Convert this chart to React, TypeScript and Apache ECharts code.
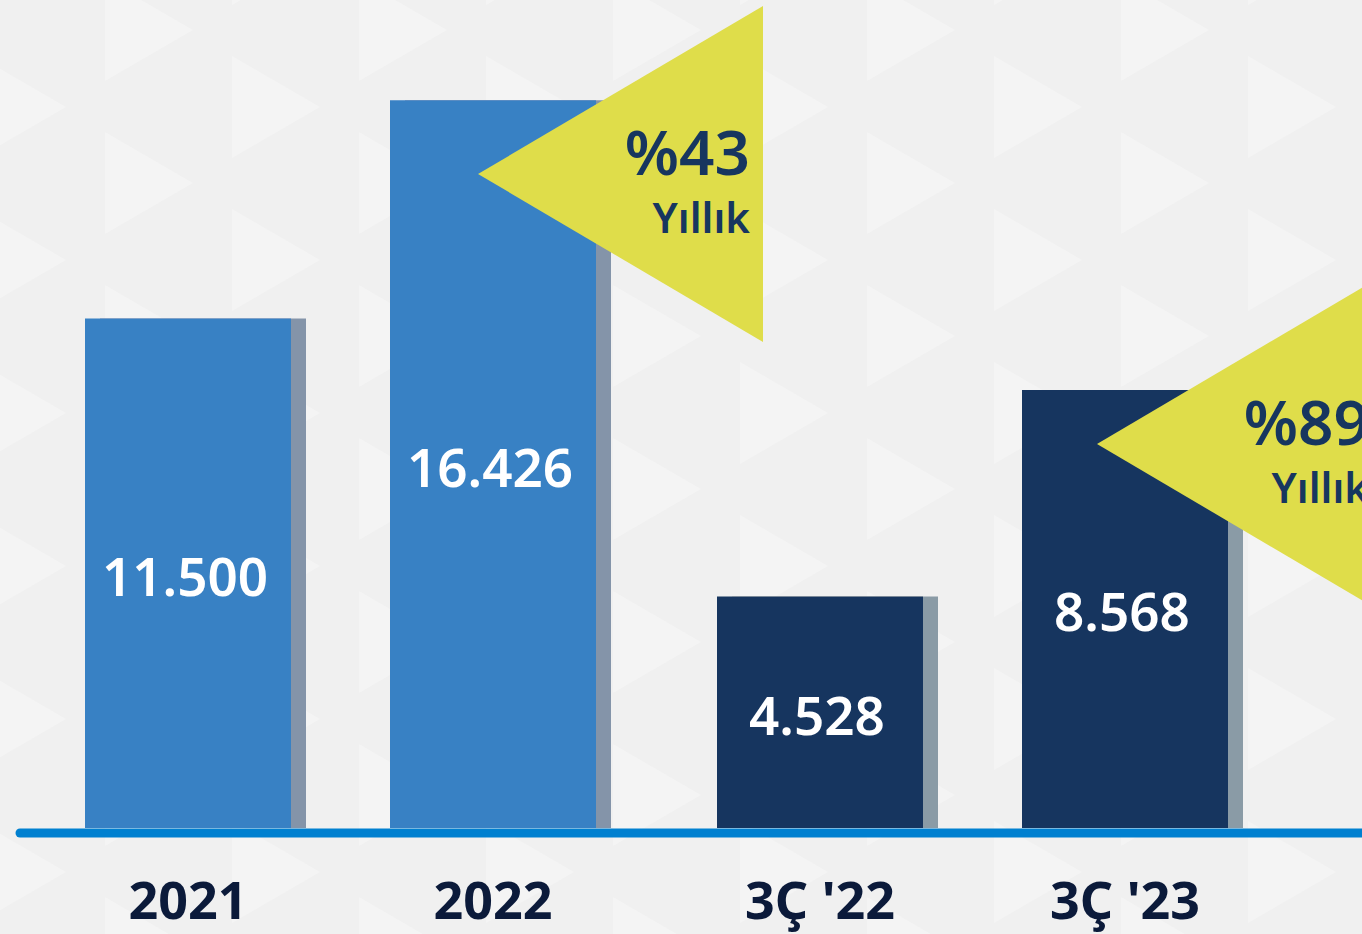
import React, { useEffect, useRef } from "react";
import * as echarts from "echarts";

const annualCategories = ["2021", "2022"];
const annualValues = [11500, 16426];
const quarterCategories = ["3Ç '22", "3Ç '23"];
const quarterValues = [4528, 8568];
const growthLabels = ["%43", "%89"];
const growthSubLabel = "Yıllık";

const fmt = (v: number) => String(v).replace(/\B(?=(\d{3})+(?!\d))/g, ".");

const FONT = "'Noto Sans', sans-serif";

function buildBackground() {
  const els: any[] = [];
  const colW = 127;
  const triW = 88;
  const triH = 102;
  const period = 153;
  for (let i = 0; i < 12; i++) {
    const x0 = -22 + colW * i;
    const apexBase = i % 2 === 1 ? 30 : 107;
    for (let j = -1; j < 8; j++) {
      const ay = apexBase + period * j;
      els.push({
        type: "polygon",
        z: -10,
        silent: true,
        shape: {
          points: [
            [x0, ay - triH / 2],
            [x0 + triW, ay],
            [x0, ay + triH / 2],
          ],
        },
        style: { fill: "#f4f4f4" },
      });
    }
  }
  return els;
}

function callout(vx: number, vy: number, big: string, small: string) {
  const w = 285;
  const h = 168;
  return [
    {
      type: "polygon",
      z: 20,
      shape: {
        points: [
          [vx, vy],
          [vx + w, vy - h],
          [vx + w, vy + h],
        ],
      },
      style: { fill: "#dfdd4a" },
    },
    {
      type: "text",
      z: 21,
      x: vx + w - 13,
      y: vy - 23,
      style: {
        text: big,
        fill: "#17365f",
        font: `600 62px ${FONT}`,
        lineHeight: 52,
        textAlign: "right",
        textVerticalAlign: "middle",
        verticalAlign: "middle",
      },
    },
    {
      type: "text",
      z: 21,
      x: vx + w - 13,
      y: vy + 42,
      style: {
        text: small,
        fill: "#17365f",
        font: `600 42px ${FONT}`,
        lineHeight: 36,
        textAlign: "right",
        textVerticalAlign: "middle",
        verticalAlign: "middle",
      },
    },
  ];
}

export default function App() {
  const ref = useRef<HTMLDivElement>(null);
  useEffect(() => {
    document.body.style.margin = "0";
    const chart = echarts.init(ref.current!, null, { renderer: "svg" });
    const labelCfg = {
      show: true,
      position: "inside",
      color: "#ffffff",
      fontFamily: FONT,
      fontSize: 53,
      fontWeight: 600,
      offset: [-3, 2],
      formatter: (p: any) => fmt(p.value),
    };
    const xAxisCommon = {
      type: "category",
      axisLine: { show: false },
      axisTick: { show: false },
      axisLabel: {
        color: "#0b1a3a",
        fontFamily: FONT,
        fontSize: 52,
        fontWeight: 700,
        margin: 70,
        verticalAlign: "middle",
      },
    };
    const yAxisCommon = {
      type: "value",
      min: 0,
      axisLine: { show: false },
      axisTick: { show: false },
      axisLabel: { show: false },
      splitLine: { show: false },
    };
    chart.setOption({
      animation: false,
      backgroundColor: "#f0f0f0",
      grid: [
        { left: 35.5, width: 610, top: 30.5, bottom: 106 },
        { left: 667.5, width: 610, top: 30.5, bottom: 106 },
      ],
      xAxis: [
        { ...xAxisCommon, gridIndex: 0, data: annualCategories },
        { ...xAxisCommon, gridIndex: 1, data: quarterCategories },
      ],
      yAxis: [
        { ...yAxisCommon, gridIndex: 0, max: 18000 },
        { ...yAxisCommon, gridIndex: 1, max: 15600 },
      ],
      series: [
        {
          type: "bar",
          xAxisIndex: 0,
          yAxisIndex: 0,
          data: annualValues,
          barWidth: 206,
          z: 3,
          itemStyle: {
            color: "#3881c4",
            shadowColor: "#8494a9",
            shadowOffsetX: 15,
            shadowOffsetY: 0,
            shadowBlur: 0,
          },
          label: labelCfg,
        },
        {
          type: "bar",
          xAxisIndex: 1,
          yAxisIndex: 1,
          data: quarterValues,
          barWidth: 206,
          z: 3,
          itemStyle: {
            color: "#17365f",
            shadowColor: "#8a9ba6",
            shadowOffsetX: 15,
            shadowOffsetY: 0,
            shadowBlur: 0,
          },
          label: labelCfg,
        },
      ],
      graphic: [
        ...buildBackground(),
        {
          type: "line",
          z: 15,
          shape: { x1: 20, y1: 833, x2: 1400, y2: 833 },
          style: { stroke: "#0080d0", lineWidth: 9, lineCap: "round" },
        },
        ...callout(478, 174, growthLabels[0], growthSubLabel),
        ...callout(1097, 444, growthLabels[1], growthSubLabel),
      ],
    });
    return () => chart.dispose();
  }, []);
  return <div ref={ref} style={{ width: 1362, height: 934 }} />;
}
